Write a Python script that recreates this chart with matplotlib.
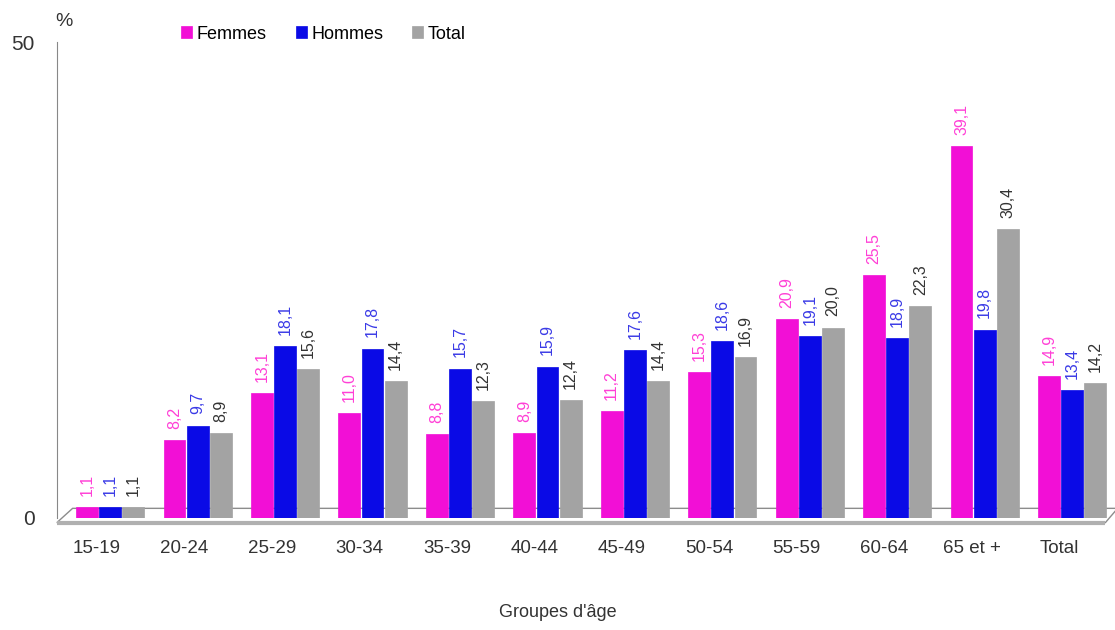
import numpy as np
import matplotlib.pyplot as plt
from matplotlib.patches import Polygon

plt.rcParams['font.family'] = ['Liberation Sans', 'DejaVu Sans']

# données
groupes = ["15-19", "20-24", "25-29", "30-34", "35-39", "40-44", "45-49",
           "50-54", "55-59", "60-64", "65 et +", "Total"]
femmes = [1.1, 8.2, 13.1, 11.0, 8.8, 8.9, 11.2, 15.3, 20.9, 25.5, 39.1, 14.9]
hommes = [1.1, 9.7, 18.1, 17.8, 15.7, 15.9, 17.6, 18.6, 19.1, 18.9, 19.8, 13.4]
total = [1.1, 8.9, 15.6, 14.4, 12.3, 12.4, 14.4, 16.9, 20.0, 22.3, 30.4, 14.2]

series = [("Femmes", femmes, "#f20fd6", "#ff3fd6"),
          ("Hommes", hommes, "#0a0ae6", "#3a3ae6"),
          ("Total", total, "#a3a3a3", "#333333")]

fig = plt.figure(figsize=(11.15, 6.3), dpi=100)
ax = fig.add_axes([0.051, 0.178, 0.949, 0.755])

x = np.arange(len(groupes))
w = 0.25
decal = [-0.265, 0.0, 0.265]

for (nom, vals, col, tcol), d in zip(series, decal):
    xs = x + 0.15 + d
    ax.bar(xs, vals, width=w, color=col, edgecolor=col, linewidth=0.5,
           label=nom, zorder=3)
    for xi, v in zip(xs, vals):
        ax.annotate(f"{v:.1f}".replace(".", ","), (xi, v), xytext=(0, 8),
                    textcoords="offset points", rotation=90, ha="center",
                    va="bottom", fontsize=11.5, color=tcol)

ax.set_xlim(-0.46, 11.64)
ax.set_ylim(0, 50)

# plancher en perspective
plancher = Polygon([(-0.46, -0.5), (11.53, -0.5), (11.67, 1.0), (-0.28, 1.0)],
                   closed=True, facecolor="white", edgecolor="#8c8c8c",
                   linewidth=1, clip_on=False, zorder=1)
ax.add_patch(plancher)
ax.plot([-0.46, 11.53], [-0.5, -0.5], color="#b0b0b0", lw=3,
        clip_on=False, zorder=2, solid_capstyle="butt")

for s in ["top", "right", "bottom"]:
    ax.spines[s].set_visible(False)
ax.spines["left"].set_color("#888888")
ax.spines["left"].set_bounds(0, 50)

ax.set_yticks([0, 50])
ax.set_xticks(x)
ax.set_xticklabels(groupes, fontsize=13.5, color="#333333")
ax.tick_params(axis="both", length=0)
ax.tick_params(axis="x", pad=16)
ax.tick_params(axis="y", labelsize=15, pad=16, labelcolor="#333333")

fig.text(0.05, 0.958, "%", fontsize=14, color="#333333")
fig.text(0.5, 0.02, "Groupes d'âge", fontsize=13, ha="center", color="#333333")

ax.legend(loc="center", bbox_to_anchor=(0.29, 0.946),
          bbox_transform=fig.transFigure, ncol=3, frameon=False,
          handlelength=0.6, handleheight=0.6, handletextpad=0.25,
          columnspacing=1.6, fontsize=13)

fig.savefig("out.png", dpi=100)
